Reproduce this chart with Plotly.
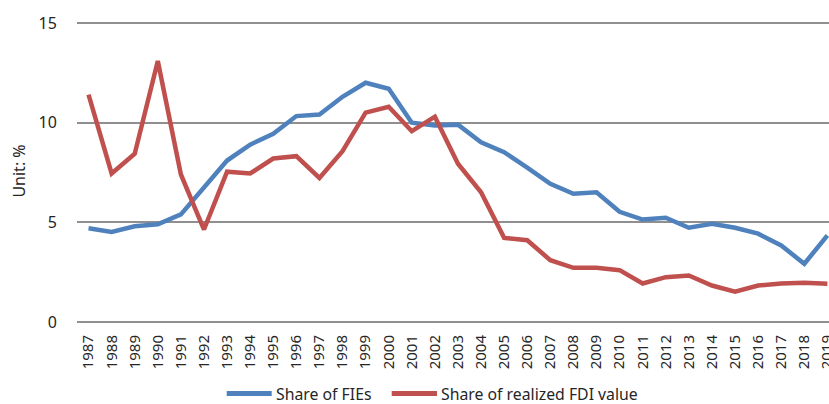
import plotly.graph_objects as go

years = list(range(1987, 2020))
share_fies = [4.7, 4.52, 4.8, 4.9, 5.4, 6.75, 8.1, 8.9, 9.44, 10.33, 10.41, 11.3, 12.0, 11.7,
              10.0, 9.86, 9.9, 9.02, 8.52, 7.74, 6.93, 6.43, 6.51, 5.53, 5.14, 5.23, 4.73,
              4.93, 4.73, 4.43, 3.84, 2.92, 4.34]
share_fdi = [11.41, 7.45, 8.44, 13.09, 7.4, 4.64, 7.54, 7.45, 8.2, 8.32, 7.23, 8.57, 10.5, 10.8,
             9.57, 10.3, 7.94, 6.51, 4.22, 4.1, 3.1, 2.72, 2.72, 2.6, 1.93, 2.25, 2.33,
             1.83, 1.52, 1.83, 1.93, 1.97, 1.92]
y_ticks = [0, 5, 10, 15]
series_names = ["Share of FIEs", "Share of realized FDI value"]
series_colors = ["#4F81BD", "#C0504D"]

FONT = "Noto Sans, Open Sans, DejaVu Sans, sans-serif"
GRID = "#8F8F8F"
W, H = 829, 404
M = dict(l=77, r=0, t=20, b=82)


def px_x(px):
    return (px - M["l"]) / (W - M["l"] - M["r"])


def px_y(py):
    return (H - M["b"] - py) / (H - M["t"] - M["b"])


fig = go.Figure()
for name, vals, col in zip(series_names, [share_fies, share_fdi], series_colors):
    fig.add_trace(go.Scatter(x=years, y=vals, mode="lines", name=name,
                             line=dict(color=col, width=4.5), showlegend=False))

# Legend drawn below the axis labels (sample line + label per series)
legend_y = px_y(393.5)
legend_items = [(226.7, 271.7, 275), (391.7, 437, 440)]
shapes, annotations = [], []
for (x0, x1, xt), name, col in zip(legend_items, series_names, series_colors):
    shapes.append(dict(type="line", xref="paper", yref="paper",
                       x0=px_x(x0), x1=px_x(x1), y0=legend_y, y1=legend_y,
                       line=dict(color=col, width=5)))
    annotations.append(dict(xref="paper", yref="paper", x=px_x(xt), y=legend_y,
                            xanchor="left", yanchor="middle", text=name, showarrow=False,
                            font=dict(size=15.8, family=FONT, color="#262626"),
                            borderpad=0))

fig.update_layout(
    width=W, height=H,
    margin=M,
    paper_bgcolor="white", plot_bgcolor="white",
    font=dict(family=FONT, color="#262626"),
    showlegend=False,
    shapes=shapes, annotations=annotations,
    xaxis=dict(range=[1986.5, 2019.07], tickmode="array", tickvals=years,
               ticktext=[str(y) for y in years], tickangle=-90,
               tickfont=dict(size=15, family=FONT), showgrid=False,
               showline=False, zeroline=False, ticks="outside", ticklen=6,
               tickcolor="rgba(0,0,0,0)", automargin=False, ticklabeloverflow="allow"),
    yaxis=dict(range=[0, 15.15], tickvals=y_ticks, tickfont=dict(size=16, family=FONT),
               showgrid=True, gridcolor=GRID, gridwidth=1.8,
               zeroline=True, zerolinecolor=GRID, zerolinewidth=1.8,
               ticks="outside", ticklen=16, tickcolor="rgba(0,0,0,0)", automargin=False,
               title=dict(text="Unit: %", font=dict(size=16, family=FONT), standoff=8)),
)

fig.write_html("out.html", config={"displayModeBar": False},
               post_script="document.body.style.margin='0';document.body.style.overflow='hidden';")
